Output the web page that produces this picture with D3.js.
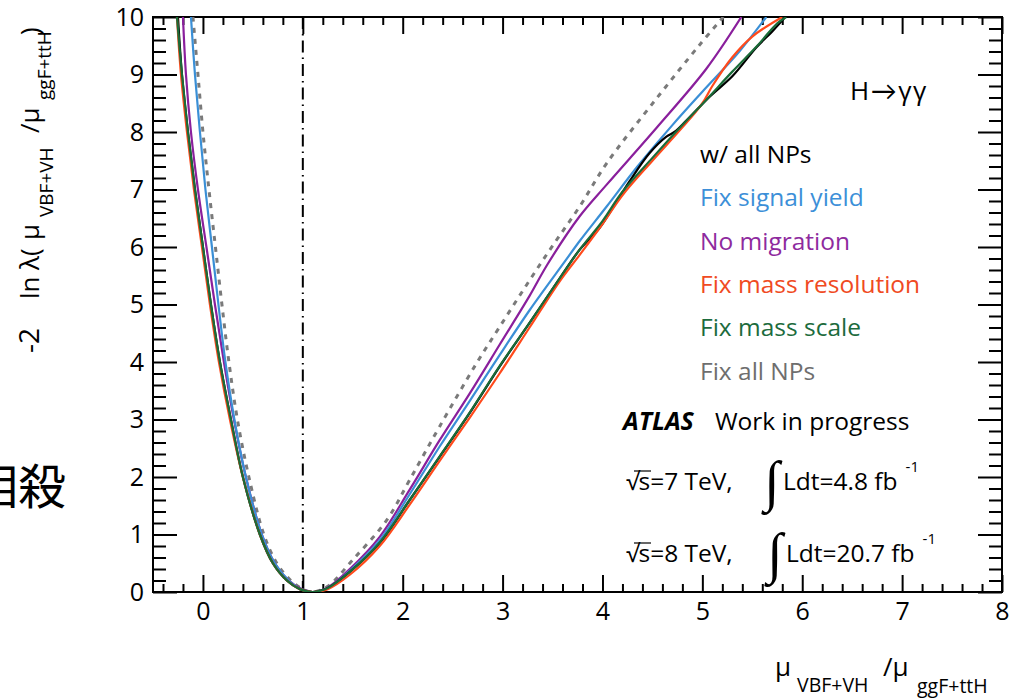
<!DOCTYPE html>
<html><head><meta charset="utf-8">
<script src="https://cdn.jsdelivr.net/npm/d3@7"></script>
<style>body{margin:0;background:#fff} svg{display:block}</style>
</head><body>
<svg id="c" width="1018" height="700"></svg>
<script>
// ---- data ----
const seriesNames = ["w/ all NPs","Fix signal yield","No migration","Fix mass resolution","Fix mass scale","Fix all NPs"];
const seriesColors = ["#000000","#3a8fd6","#8a1f9c","#ff4a1c","#1a6b38","#7a7a7a"];
const labelColors  = ["#000000","#3c8fd8","#8e2a9e","#f04a22","#1c6b3d","#6e6e6e"];

const allNPsMu  = [-0.25,-0.21,-0.15,-0.08,0.0,0.08,0.17,0.28,0.40,0.57,0.70,0.84,0.97,1.10,1.25,1.47,1.77,2.07,2.37,2.67,2.97,3.27,3.57,3.77,3.97,4.17,4.27,4.47,4.64,4.72,4.84,5.07,5.30,5.54,5.70,5.83];
const allNPsVal = [10,9,8,7,6,5,4,3,2,1,0.5,0.2,0.05,0,0.07,0.35,0.85,1.6,2.35,3.11,3.92,4.68,5.45,5.95,6.33,6.87,7.14,7.63,7.92,8.0,8.2,8.61,8.97,9.47,9.75,10];

const sigYieldMu  = [-0.12,-0.08,-0.03,0.025,0.09,0.155,0.225,0.315,0.43,0.59,0.72,0.86,0.98,1.10,1.25,1.47,1.77,2.07,2.37,2.67,2.97,3.27,3.62,3.77,4.04,4.35,4.70,5.00,5.37,5.64];
const sigYieldVal = [10,9,8,7,6,5,4,3,2,1,0.5,0.2,0.05,0,0.07,0.37,0.9,1.7,2.53,3.32,4.12,4.9,5.74,6.1,6.7,7.4,8.12,8.7,9.4,10];

const noMigMu  = [-0.20,-0.17,-0.12,-0.05,0.035,0.12,0.21,0.31,0.43,0.59,0.72,0.86,0.99,1.10,1.25,1.47,1.77,2.07,2.37,2.67,2.97,3.27,3.45,3.77,4.04,4.54,5.04,5.39];
const noMigVal = [10,9,8,7,6,5,4,3,2,1,0.5,0.2,0.05,0,0.08,0.4,0.96,1.78,2.64,3.45,4.3,5.15,5.7,6.53,7.08,8.07,9.1,10];

const massResMu  = [-0.26,-0.22,-0.16,-0.09,-0.01,0.07,0.16,0.27,0.40,0.57,0.70,0.84,0.97,1.10,1.25,1.47,1.77,2.07,2.37,2.67,2.97,3.27,3.57,3.77,4.00,4.20,4.50,4.80,5.00,5.10,5.30,5.50,5.80];
const massResVal = [10,9,8,7,6,5,4,3,2,1,0.5,0.2,0.05,0,0.05,0.3,0.8,1.52,2.28,3.03,3.8,4.6,5.4,5.86,6.4,6.9,7.5,8.08,8.5,8.8,9.3,9.66,10];

const massScaleMu  = [-0.26,-0.21,-0.15,-0.08,0.0,0.08,0.17,0.28,0.40,0.57,0.70,0.84,0.97,1.10,1.25,1.47,1.77,2.07,2.37,2.67,2.97,3.27,3.57,3.77,4.00,4.20,4.50,4.80,5.05,5.30,5.55,5.75,5.84];
const massScaleVal = [10,9,8,7,6,5,4,3,2,1,0.5,0.2,0.05,0,0.07,0.35,0.86,1.6,2.36,3.12,3.93,4.68,5.45,5.95,6.45,6.96,7.55,8.12,8.58,9.05,9.5,9.89,10];

const fixAllMu  = [-0.10,-0.05,0.0,0.06,0.125,0.19,0.26,0.345,0.46,0.61,0.74,0.88,1.00,1.10,1.25,1.50,1.84,2.07,2.37,2.74,2.97,3.24,3.50,3.77,4.04,4.54,4.97,5.21];
const fixAllVal = [10,9,8,7,6,5,4,3,2,1,0.5,0.2,0.05,0,0.1,0.56,1.25,1.95,2.88,3.98,4.61,5.34,6.02,6.70,7.45,8.58,9.51,10];

const xMajorTicks = [0,1,2,3,4,5,6,7,8];
const yMajorTicks = [0,1,2,3,4,5,6,7,8,9,10];
const xMinorTicks = d3.range(-2,40).map(i=>i*0.2).filter(v=>Math.abs(v-Math.round(v))>1e-6);
const yMinorTicks = d3.range(0,51).map(i=>i*0.2).filter(v=>Math.abs(v-Math.round(v))>1e-6);
const referenceMu = 1;

// ---- drawing ----
const svg = d3.select("#c");
const P = {left:153,right:1002,top:17,bottom:592};
const x = d3.scaleLinear().domain([-0.5,8]).range([P.left,P.right]);
const y = d3.scaleLinear().domain([0,10]).range([P.bottom,P.top]);
const FONT = "'Open Sans', Lato, sans-serif";
const TXT = 24.5;

svg.append("defs").append("clipPath").attr("id","clip")
  .append("rect").attr("x",P.left).attr("y",P.top).attr("width",P.right-P.left).attr("height",P.bottom-P.top);

function styleAxis(g){
  g.select(".domain").remove();
  g.selectAll(".tick line").attr("stroke","#000").attr("stroke-width",2);
  g.selectAll("text").attr("font-family",FONT).attr("font-size",25).attr("fill","#000");
}
svg.append("g").attr("transform",`translate(0,${P.bottom})`)
  .call(d3.axisBottom(x).tickValues(xMajorTicks).tickSize(-17).tickPadding(10).tickFormat(d3.format("d"))).call(styleAxis);
svg.append("g").attr("transform",`translate(0,${P.bottom})`)
  .call(d3.axisBottom(x).tickValues(xMinorTicks).tickSize(-8).tickFormat("")).call(styleAxis);
svg.append("g").attr("transform",`translate(0,${P.top})`)
  .call(d3.axisTop(x).tickValues(xMajorTicks).tickSize(-17).tickFormat("")).call(styleAxis);
svg.append("g").attr("transform",`translate(0,${P.top})`)
  .call(d3.axisTop(x).tickValues(xMinorTicks).tickSize(-8).tickFormat("")).call(styleAxis);
svg.append("g").attr("transform",`translate(${P.left},0)`)
  .call(d3.axisLeft(y).tickValues(yMajorTicks).tickSize(-24).tickPadding(9).tickFormat(d3.format("d"))).call(styleAxis);
svg.append("g").attr("transform",`translate(${P.left},0)`)
  .call(d3.axisLeft(y).tickValues(yMinorTicks).tickSize(-13).tickFormat("")).call(styleAxis);
svg.append("g").attr("transform",`translate(${P.right},0)`)
  .call(d3.axisRight(y).tickValues(yMajorTicks).tickSize(-24).tickFormat("")).call(styleAxis);
svg.append("g").attr("transform",`translate(${P.right},0)`)
  .call(d3.axisRight(y).tickValues(yMinorTicks).tickSize(-13).tickFormat("")).call(styleAxis);

svg.append("rect").attr("x",P.left).attr("y",P.top).attr("width",P.right-P.left).attr("height",P.bottom-P.top)
  .attr("fill","none").attr("stroke","#000").attr("stroke-width",2);

svg.append("line").attr("x1",x(referenceMu)).attr("x2",x(referenceMu)).attr("y1",y(10)).attr("y2",y(0))
  .attr("stroke","#000").attr("stroke-width",2).attr("stroke-dasharray","12,5,1.5,5");

const line = d3.line().x(d=>x(d[0])).y(d=>y(d[1])).curve(d3.curveCatmullRom.alpha(0.5));
const series = [
  {mu:fixAllMu, v:fixAllVal, c:seriesColors[5], dash:"5,6", w:3},
  {mu:noMigMu, v:noMigVal, c:seriesColors[2], w:2.2},
  {mu:sigYieldMu, v:sigYieldVal, c:seriesColors[1], w:2.2},
  {mu:allNPsMu, v:allNPsVal, c:seriesColors[0], w:2.2},
  {mu:massResMu, v:massResVal, c:seriesColors[3], w:2.2},
  {mu:massScaleMu, v:massScaleVal, c:seriesColors[4], w:2.2},
];
const cg = svg.append("g").attr("clip-path","url(#clip)");
series.forEach(s=>{
  cg.append("path").datum(d3.zip(s.mu,s.v)).attr("d",line).attr("fill","none")
    .attr("stroke",s.c).attr("stroke-width",s.w).attr("stroke-dasharray",s.dash||null).attr("stroke-linejoin","round");
});

seriesNames.forEach((n,i)=>{
  svg.append("text").attr("x",700).attr("y",163+43.3*i).text(n)
    .attr("font-family",FONT).attr("font-size",TXT).attr("fill",labelColors[i]);
});
svg.append("text").attr("x",850).attr("y",100).text("H\u2192\u03b3\u03b3")
  .attr("font-family",FONT).attr("font-size",26).attr("letter-spacing",1.5).attr("fill","#000");

svg.append("text").attr("x",623).attr("y",430).attr("font-family",FONT).attr("font-size",25)
  .attr("font-weight","bold").attr("font-style","italic").text("ATLAS");
svg.append("text").attr("x",715).attr("y",430).attr("font-family",FONT).attr("font-size",TXT).text("Work in progress");

const lumi = [{s:"7",L:"4.8",yb:490,ix:764},{s:"8",L:"20.7",yb:562,ix:767}];
lumi.forEach(d=>{
  const r = svg.append("text").attr("x",626).attr("y",d.yb).attr("font-family",FONT).attr("font-size",TXT);
  r.append("tspan").text("\u221a");
  r.append("tspan").attr("dx",-1).text(`s=${d.s} TeV,`);
  svg.append("line").attr("x1",634).attr("x2",651).attr("y1",d.yb-19).attr("y2",d.yb-19).attr("stroke","#000").attr("stroke-width",1.2);
  svg.append("text").attr("x",d.ix).attr("y",d.yb+10).attr("font-family","'Liberation Serif', serif").attr("font-size",56).text("\u222b");
  const t = svg.append("text").attr("x",d.ix+19).attr("y",d.yb).attr("font-family",FONT).attr("font-size",TXT);
  t.append("tspan").text(`Ldt=${d.L} fb`);
  t.append("tspan").attr("dx",8).attr("dy",-18).attr("font-size",15).text("-1");
});

const yt = svg.append("text").attr("transform","translate(39,355) rotate(-90)").attr("font-family",FONT).attr("font-size",26).attr("fill","#000");
yt.append("tspan").attr("x",2).attr("y",0).attr("font-size",28).text("-2");
yt.append("tspan").attr("x",56).attr("y",0).text("ln");
yt.append("tspan").attr("x",85).attr("y",0).text("\u03bb(");
yt.append("tspan").attr("x",115).attr("y",0).text("\u03bc");
yt.append("tspan").attr("x",138).attr("y",14).attr("font-size",19).text("VBF+VH");
yt.append("tspan").attr("x",222).attr("y",0).text("/\u03bc");
yt.append("tspan").attr("x",255).attr("y",12).attr("font-size",19).text("ggF+ttH");
yt.append("tspan").attr("x",320).attr("y",0).text(")");

const xt = svg.append("text").attr("font-family",FONT).attr("font-size",26).attr("fill","#000");
xt.append("tspan").attr("x",775).attr("y",676).text("\u03bc");
xt.append("tspan").attr("x",797).attr("y",692).attr("font-size",19.5).text("VBF+VH");
xt.append("tspan").attr("x",883).attr("y",676).text("/\u03bc");
xt.append("tspan").attr("x",917).attr("y",693).attr("font-size",19.5).text("ggF+ttH");

svg.append("text").attr("x",-30).attr("y",504).attr("font-family","'Noto Sans CJK JP', sans-serif")
  .attr("font-size",48).attr("fill","#000").text("相殺");
</script>
</body></html>
